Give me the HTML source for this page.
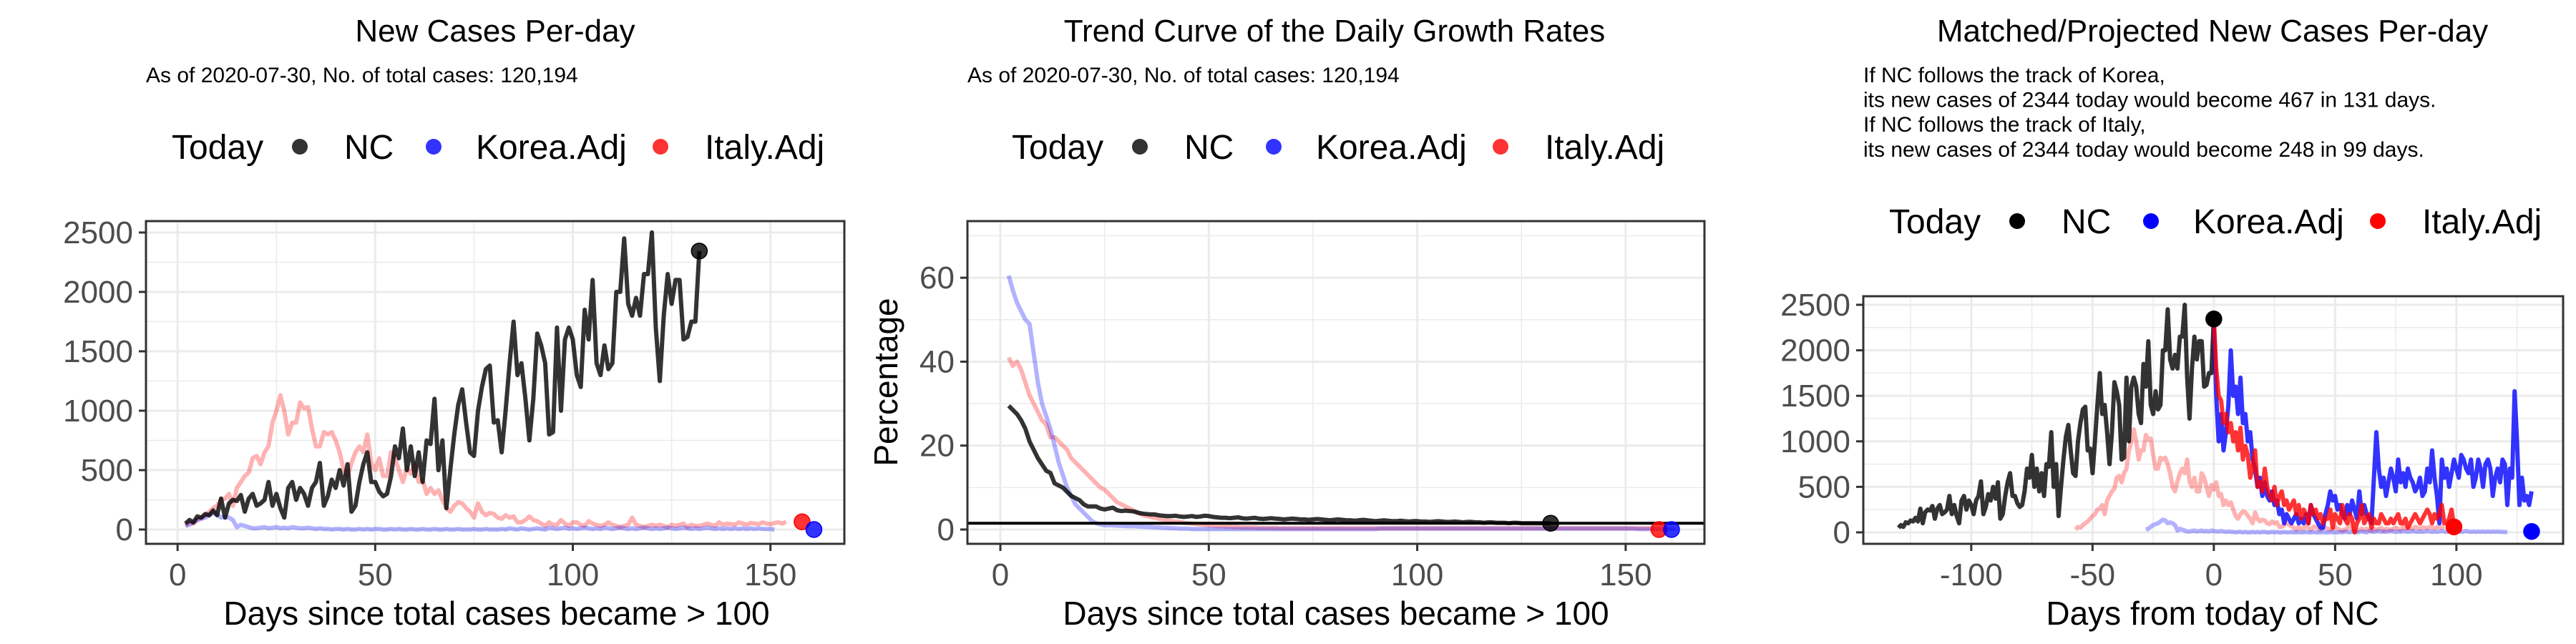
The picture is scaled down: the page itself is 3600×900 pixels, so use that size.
<!DOCTYPE html>
<html><head><meta charset="utf-8"><style>
html,body{margin:0;padding:0;background:#fff;}
svg{display:block;font-family:"Liberation Sans",Arial,sans-serif;}
</style></head><body>
<svg id="chart" width="3600" height="900" viewBox="0 0 3600 900" xmlns="http://www.w3.org/2000/svg"></svg>
<script>
// ---------- DATA ----------
const ncDaily = [50,80,60,110,100,130,120,160,120,260,100,220,250,240,290,150,260,300,200,220,250,400,200,300,180,100,350,400,250,350,300,200,350,400,560,200,280,420,350,500,370,550,150,200,400,550,650,400,400,320,280,300,450,700,600,850,500,700,450,650,400,750,720,1100,500,750,180,500,800,1050,1180,900,650,620,1000,1200,1350,1380,900,920,650,1000,1400,1750,1300,1400,1100,750,1100,1650,1550,1400,800,820,1700,1000,1600,1700,1600,1300,1200,1850,1600,2100,1400,1300,1550,1350,1400,2000,2000,2450,1900,1800,1950,1800,2150,2150,2500,1700,1250,1800,2150,1900,2100,2100,1600,1620,1750,1750,2344];
const italyDaily = [30,60,50,80,100,120,150,180,200,250,260,300,200,350,400,450,480,600,620,550,650,700,900,1000,1130,1000,800,900,900,1070,1020,1030,850,700,700,820,800,820,750,650,500,450,560,650,700,650,800,560,500,600,450,450,650,600,500,400,520,470,550,400,420,300,350,300,330,250,180,150,200,230,220,180,150,100,220,150,120,140,130,100,90,120,100,110,60,60,80,110,80,70,50,30,60,40,40,80,50,30,60,60,40,30,70,50,40,30,40,60,40,30,20,30,40,100,40,30,20,30,40,30,40,30,20,40,30,40,50,20,40,30,30,40,50,40,30,60,40,50,45,40,60,50,40,55,50,45,60,50,45,55,60,50,65];
const koreaDaily = [30,40,60,80,90,100,120,140,130,100,110,100,80,20,40,30,20,10,10,15,20,10,15,20,10,15,10,20,15,10,10,15,10,5,10,5,5,0,5,5,0,5,0,0,5,0,5,0,5,5,0,0,5,0,5,0,0,5,0,0,5,0,0,5,0,0,5,0,0,5,0,0,0,5,0,0,5,0,0,0,5,0,10,5,0,10,5,0,5,10,5,0,15,10,5,10,15,5,10,5,10,15,10,5,10,5,15,10,5,10,15,10,5,10,5,10,15,10,5,10,5,10,15,10,5,10,15,10,5,10,5,10,15,10,5,10,5,10,5,10,5,10,5,10,5,10,5,5,5,0];
const ncGrowth = [29.5,28.5,27.5,26,24,21,19,17,15.5,14,13.5,11,10.5,10,9,8,7.5,7,6,5.5,5.5,5.5,5,4.8,5,5.2,4.6,4.4,4.5,4.4,4.3,4,3.8,3.7,3.6,3.6,3.4,3.3,3.2,3.2,3.3,3.1,3.0,3.1,3.2,3.0,3.1,3.3,3.2,3.0,2.9,2.8,2.8,2.7,2.8,2.9,2.7,2.6,2.7,2.8,2.6,2.5,2.6,2.7,2.6,2.5,2.4,2.5,2.6,2.5,2.4,2.4,2.3,2.4,2.5,2.4,2.3,2.2,2.3,2.4,2.3,2.2,2.2,2.1,2.2,2.3,2.2,2.1,2.0,2.1,2.2,2.1,2.0,2.0,2.1,2.0,1.9,2.0,2.0,1.9,1.9,1.8,1.9,2.0,1.9,1.8,1.8,1.9,1.8,1.7,1.8,1.8,1.7,1.7,1.6,1.7,1.7,1.6,1.6,1.6,1.5,1.6,1.6,1.5,1.5,1.5,1.5,1.5,1.5,1.5,1.5];
const koreaGrowth = [60.5,57,54,52,50,49,42,35,30,27,24,20,16,13,10,8,6,5,4,3,2,1.5,1.2,1.0,1.0,1.0,0.9,0.9,0.8,0.8,0.8,0.7,0.7,0.6,0.6,0.5,0.5,0.4,0.4,0.3,0.3,0.2,0.2,0.2,0.1,0.1,0.1,0.1,0.1,0.1,0.1,0.1,0.1,0.1,0.1,0.1,0.1,0.1,0.1,0.1,0.1,0.1,0.1,0.1,0.1,0.1,0.1,0.1,0.1,0.1,0.1,0.1,0.1,0.1,0.1,0.1,0.1,0.1,0.1,0.1,0.1,0.1,0.1,0.1,0.1,0.1,0.1,0.1,0.1,0.2,0.2,0.2,0.2,0.2,0.2,0.2,0.2,0.2,0.2,0.2,0.2,0.2,0.2,0.2,0.2,0.2,0.2,0.2,0.2,0.2,0.2,0.2,0.2,0.2,0.2,0.2,0.2,0.2,0.2,0.2,0.2,0.2,0.2,0.2,0.2,0.2,0.2,0.2,0.2,0.2,0.2,0.2,0.2,0.2,0.2,0.2,0.2,0.2,0.2,0.2,0.2,0.2,0.2,0.2,0.2,0.2,0.2,0.2,0.2,0.2,0.2,0.1,0.1,0.1,0.1,0.1,0.1,0.1,0.1,0.1,0.1];
const italyGrowth = [41,39,40,38,35,32,30,28,26,25,22,22,21,20,19,17,16,15,14,13,12,11,10,9.5,8.5,7.5,6.5,6,5.5,5,4.5,4,3.5,3.2,3.0,2.8,2.6,2.4,2.2,2.0,1.9,1.8,1.6,1.5,1.4,1.3,1.2,1.1,1.0,0.9,0.8,0.8,0.7,0.7,0.6,0.6,0.5,0.5,0.5,0.5,0.4,0.4,0.4,0.4,0.4,0.3,0.3,0.3,0.3,0.3,0.3,0.3,0.3,0.3,0.3,0.3,0.3,0.3,0.3,0.3,0.3,0.3,0.3,0.3,0.3,0.3,0.3,0.3,0.3,0.3,0.3,0.3,0.3,0.3,0.3,0.3,0.3,0.3,0.3,0.3,0.3,0.3,0.3,0.3,0.3,0.3,0.3,0.3,0.3,0.3,0.3,0.3,0.3,0.3,0.3,0.3,0.3,0.3,0.3,0.3,0.3,0.3,0.3,0.3,0.3,0.3,0.3,0.3,0.3,0.3,0.3,0.3,0.3,0.3,0.3,0.3,0.3,0.3,0.3,0.3,0.3,0.3,0.3,0.3,0.3,0.3,0.3,0.3,0.3,0.3,0.3,0.3,0.3,0.3,0.3,0.3];
const koreaProjected = [2344,1500,1000,1300,900,1100,1400,2000,1500,1600,1300,1700,1200,1300,1000,1100,800,700,500,600,400,550,400,350,450,300,350,200,250,100,200,150,100,150,200,100,150,100,200,100,300,200,150,100,50,50,200,300,450,350,400,250,300,200,150,300,200,350,250,150,450,200,300,200,150,100,600,1100,700,500,600,400,550,700,600,450,800,550,650,500,700,600,550,450,500,600,400,450,700,550,900,600,400,100,800,600,700,500,650,800,700,600,850,800,700,650,800,500,600,800,700,500,750,800,700,400,600,700,550,800,750,300,700,600,1550,1000,300,600,350,400,300,450];
const italyProjected = [2344,1800,1500,1450,1200,1300,1100,1200,1000,1100,900,1150,800,950,850,600,700,900,500,550,450,700,500,400,350,500,300,400,450,300,350,250,300,350,200,300,150,250,200,100,300,200,250,150,200,100,150,150,250,50,200,150,100,300,150,100,200,150,0,100,150,300,100,150,200,50,150,100,100,200,150,100,100,150,100,150,200,100,100,150,50,100,150,200,150,100,150,200,250,200,100,200,150,200,300,100,100,150,250,60];
const yTicksCases = [0,500,1000,1500,2000,2500];
const yTicksPct = [0,20,40,60];
const xTicksDays = [0,50,100,150];
const xTicksRel = [-100,-50,0,50,100];
const lastDayKorea = 161;
const lastDayItaly = 158;
const todayKoreaAdj = 10;
const todayItalyAdj = 60;
const refLine = 1.5;

// ---------- DRAW ----------
const NS="http://www.w3.org/2000/svg";
const svg=document.getElementById('chart');
function el(tag,attrs,parent){const e=document.createElementNS(NS,tag);for(const k in attrs)e.setAttribute(k,attrs[k]);(parent||svg).appendChild(e);return e;}
function txt(s,attrs,parent){const e=el('text',attrs,parent);e.textContent=s;return e;}
function label(s,attrs,name){
  const t=txt(s,attrs);
  
  
  return t;
}

function makePanel(p){
  const g=el('g',{});
  
  
  const X=v=>p.x0+(v-p.xmin)/(p.xmax-p.xmin)*(p.x1-p.x0);
  const Y=v=>p.y1-(v-p.ymin)/(p.ymax-p.ymin)*(p.y1-p.y0);
  el('rect',{x:p.x0,y:p.y0,width:p.x1-p.x0,height:p.y1-p.y0,fill:'#fff'},g);
  p.yMinor.forEach(v=>el('line',{x1:p.x0,x2:p.x1,y1:Y(v),y2:Y(v),stroke:'#ebebeb','stroke-width':1.5},g));
  p.xMinor.forEach(v=>el('line',{y1:p.y0,y2:p.y1,x1:X(v),x2:X(v),stroke:'#ebebeb','stroke-width':1.5},g));
  p.yTicks.forEach(v=>{
    el('line',{x1:p.x0,x2:p.x1,y1:Y(v),y2:Y(v),stroke:'#ebebeb','stroke-width':3},g);
    el('line',{x1:p.x0-10,x2:p.x0,y1:Y(v),y2:Y(v),stroke:'#333','stroke-width':3},g);
    const t=txt(String(v),{x:p.x0-18,y:Y(v)+15,'text-anchor':'end','font-size':44,fill:'#4d4d4d'},g);
    
    
  });
  p.xTicks.forEach(v=>{
    el('line',{y1:p.y0,y2:p.y1,x1:X(v),x2:X(v),stroke:'#ebebeb','stroke-width':3},g);
    el('line',{y1:p.y1,y2:p.y1+10,x1:X(v),x2:X(v),stroke:'#333','stroke-width':3},g);
    const t=txt(String(v),{x:X(v),y:p.y1+58,'text-anchor':'middle','font-size':44,fill:'#4d4d4d'},g);
    
    
  });
  const clip='c'+p.name;
  const cp=el('clipPath',{id:clip},g);el('rect',{x:p.x0,y:p.y0,width:p.x1-p.x0,height:p.y1-p.y0},cp);
  const inner=el('g',{'clip-path':'url(#'+clip+')'},g);
  p.series.forEach(s=>{
    const pts=s.data.map((v,i)=>X(s.start+i).toFixed(1)+','+Y(v).toFixed(1)).join(' ');
    const pl=el('polyline',{points:pts,fill:'none',stroke:s.color,'stroke-opacity':s.op,'stroke-width':6,'stroke-linejoin':'round'},inner);
    
    
  });
  if(p.hline!==undefined){
    const hl=el('line',{x1:p.x0,x2:p.x1,y1:Y(p.hline),y2:Y(p.hline),stroke:'#000','stroke-width':4},inner);
    
    
  }
  p.dots.forEach(d=>{
    const c=el('circle',{cx:X(d.x),cy:Y(d.y),r:11,fill:d.color,'fill-opacity':d.op,stroke:d.color,'stroke-width':1.5},g);
    
    
  });
  el('rect',{x:p.x0,y:p.y0,width:p.x1-p.x0,height:p.y1-p.y0,fill:'none',stroke:'#333','stroke-width':3},g);
}

function legend(x,y,op,name){
  const g=el('g',{});
  
  
  const t0=txt('Today',{x:x,y:y+17,'font-size':48,fill:'#000'},g);
  
  
  const items=[['NC','#000',179,241],['Korea.Adj','#0000ff',366,425],['Italy.Adj','#ff0000',683,745]];
  items.forEach(it=>{
    const c=el('circle',{cx:x+it[2],cy:y,r:11,fill:it[1],'fill-opacity':op},g);
    
    
    const t=txt(it[0],{x:x+it[3],y:y+17,'font-size':48,fill:'#000'},g);
    
    
  });
}

// Panel 1
label('New Cases Per-day',{x:692,y:58,'text-anchor':'middle','font-size':44,fill:'#000'},'title-new-cases');
label('As of 2020-07-30, No. of total cases: 120,194',{x:204,y:115,'font-size':30,fill:'#000'},'subtitle-new-cases');
legend(240,205,0.8,'legend-new-cases');
makePanel({name:'panel-new-cases',x0:204,x1:1180,y0:309,y1:760,xmin:-8,xmax:168.7,ymin:-120.5,ymax:2596,
  yTicks:yTicksCases,yMinor:[250,750,1250,1750,2250],xTicks:xTicksDays,xMinor:[25,75,125],
  series:[{name:'italy-line',data:italyDaily,start:2,color:'#ff0000',op:0.3},{name:'korea-line',data:koreaDaily,start:2,color:'#0000ff',op:0.3},{name:'nc-line',data:ncDaily,start:2,color:'#000',op:0.8}],
  dots:[{name:'nc-today-dot',x:1+ncDaily.length,y:ncDaily[ncDaily.length-1],color:'#000',op:0.8},{name:'italy-today-dot',x:lastDayItaly,y:italyDaily[italyDaily.length-1],color:'#ff0000',op:0.8},{name:'korea-today-dot',x:lastDayKorea,y:koreaDaily[koreaDaily.length-1],color:'#0000ff',op:0.8}]});
label('Days since total cases became > 100',{x:694,y:873,'text-anchor':'middle','font-size':46,fill:'#000'},'x-axis-title-1');

// Panel 2
label('Trend Curve of the Daily Growth Rates',{x:1865,y:58,'text-anchor':'middle','font-size':44,fill:'#000'},'title-growth');
label('As of 2020-07-30, No. of total cases: 120,194',{x:1352,y:115,'font-size':30,fill:'#000'},'subtitle-growth');
legend(1414,205,0.8,'legend-growth');
makePanel({name:'panel-growth',x0:1352,x1:2382,y0:309,y1:760,xmin:-7.9,xmax:168.9,ymin:-3.41,ymax:73.5,
  yTicks:yTicksPct,yMinor:[10,30,50,70],xTicks:xTicksDays,xMinor:[25,75,125],hline:refLine,
  series:[{name:'italy-growth-line',data:italyGrowth,start:2,color:'#ff0000',op:0.3},{name:'korea-growth-line',data:koreaGrowth,start:2,color:'#0000ff',op:0.3},{name:'nc-growth-line',data:ncGrowth,start:2,color:'#000',op:0.8}],
  dots:[{name:'nc-today-dot',x:1+ncGrowth.length,y:ncGrowth[ncGrowth.length-1],color:'#000',op:0.8},{name:'italy-today-dot',x:lastDayItaly,y:0,color:'#ff0000',op:0.8},{name:'korea-today-dot',x:lastDayKorea,y:0,color:'#0000ff',op:0.8}]});
label('Percentage',{x:0,y:0,'text-anchor':'middle','font-size':46,fill:'#000',transform:'translate(1254,534) rotate(-90)'},'y-axis-title-percentage');
label('Days since total cases became > 100',{x:1867,y:873,'text-anchor':'middle','font-size':46,fill:'#000'},'x-axis-title-2');

// Panel 3
label('Matched/Projected New Cases Per-day',{x:3092,y:58,'text-anchor':'middle','font-size':44,fill:'#000'},'title-projected');
['If NC follows the track of Korea,','its new cases of 2344 today would become 467 in 131 days.','If NC follows the track of Italy,','its new cases of 2344 today would become 248 in 99 days.'].forEach((s,i)=>{
  label(s,{x:2604,y:115+i*34.6,'font-size':30,fill:'#000'},'projection-note');
});
legend(2640,309,1,'legend-projected');
const n=ncDaily.length;
makePanel({name:'panel-projected',x0:2604,x1:3582,y0:414,y1:760,xmin:-144.5,xmax:144,ymin:-126,ymax:2594,
  yTicks:yTicksCases,yMinor:[250,750,1250,1750,2250],xTicks:xTicksRel,xMinor:[-125,-75,-25,25,75,125],
  series:[{name:'italy-matched-line',data:italyDaily,start:2-59,color:'#ff0000',op:0.3},{name:'korea-matched-line',data:koreaDaily,start:2-30,color:'#0000ff',op:0.3},{name:'nc-line',data:ncDaily,start:1-n,color:'#000',op:0.8},{name:'korea-projected-line',data:koreaProjected,start:0,color:'#0000ff',op:0.8},{name:'italy-projected-line',data:italyProjected,start:0,color:'#ff0000',op:0.8}],
  dots:[{name:'nc-today-dot',x:0,y:ncDaily[n-1],color:'#000',op:1},{name:'italy-projected-dot',x:italyProjected.length-1,y:todayItalyAdj,color:'#ff0000',op:1},{name:'korea-projected-dot',x:koreaProjected.length-1,y:todayKoreaAdj,color:'#0000ff',op:1}]});
label('Days from today of NC',{x:3092,y:873,'text-anchor':'middle','font-size':46,fill:'#000'},'x-axis-title-3');
</script>
</body></html>
